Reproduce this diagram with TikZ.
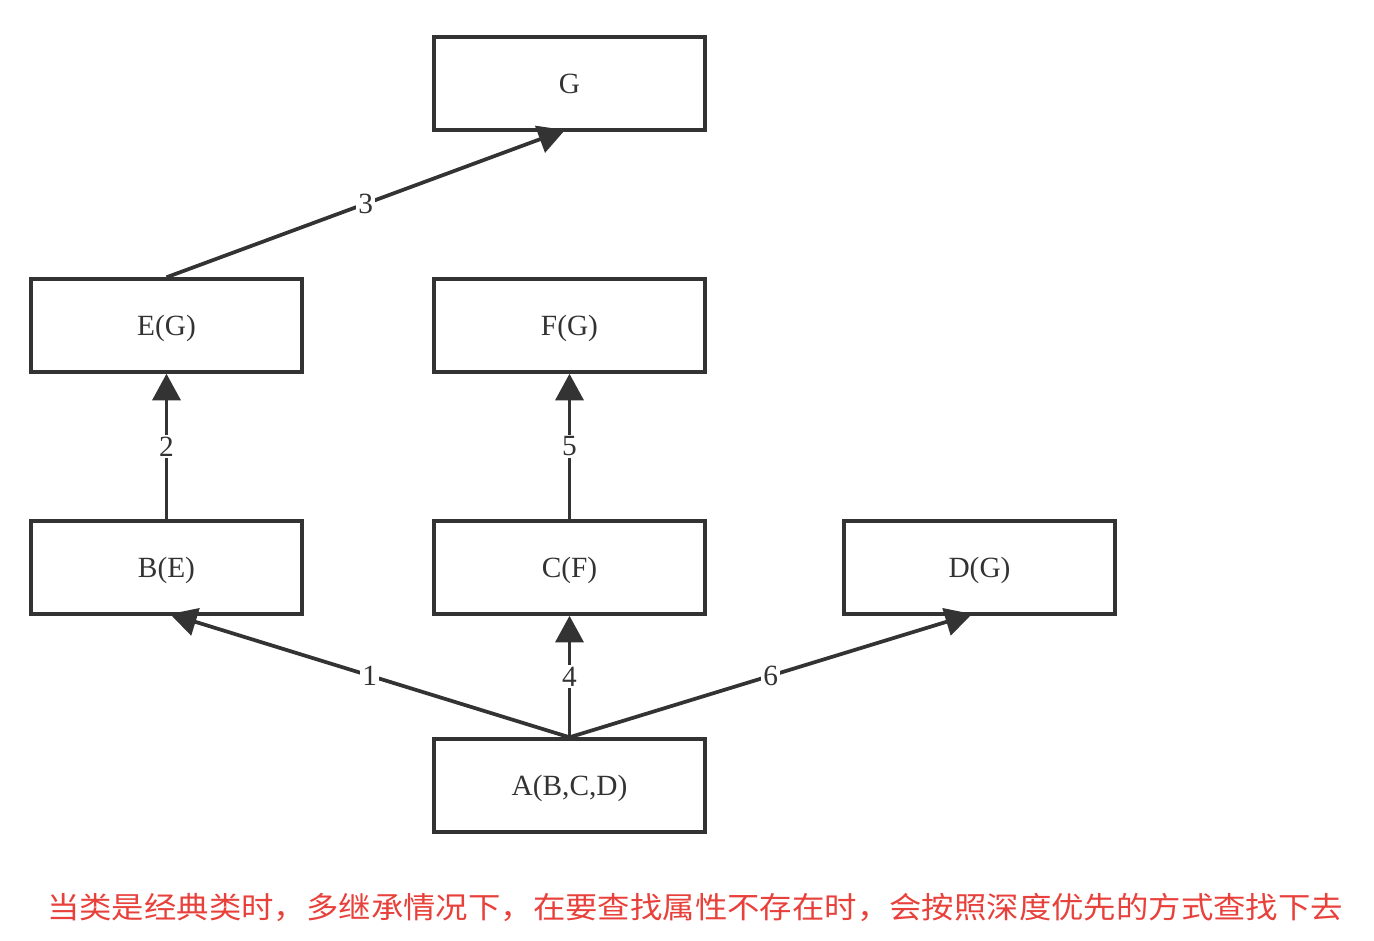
\documentclass[tikz,border=0pt]{standalone}
\usepackage{fontspec}
\setmainfont{Liberation Serif}
\newfontfamily\cjk{Noto Sans CJK SC}
\usetikzlibrary{arrows.meta}
\definecolor{ink}{HTML}{333333}
\definecolor{redtxt}{HTML}{E8403A}
\tikzset{
  box/.style={draw=ink, line width=2.6pt, minimum width=271*0.75pt, minimum height=93*0.75pt, inner sep=0pt, text height=15pt, text depth=0pt, font=\fontsize{22}{24}\selectfont, text=ink},
  conn/.style={draw=ink, line width=2.8pt, -{Triangle[length=20pt,width=21pt]}},
  lbl/.style={fill=white, inner sep=1.5pt, font=\fontsize{22}{24}\selectfont, text=ink},
}
\begin{document}
\begin{tikzpicture}[x=0.75pt,y=-0.75pt]
\useasboundingbox (0,0) rectangle (1374,940);
\node[box] (G) at (569.5,83.5) {G};
\node[box] (E) at (166.5,325.5) {E(G)};
\node[box] (F) at (569.5,325.5) {F(G)};
\node[box] (B) at (166.5,567.5) {B(E)};
\node[box] (C) at (569.5,567.5) {C(F)};
\node[box] (D) at (979.5,567.5) {D(G)};
\node[box] (A) at (569.5,785.5) {A(B,C,D)};
\coordinate (Gb) at (565,130);
\coordinate (Bb) at (170,614);
\coordinate (Db) at (972,614);
\draw[conn] (A.north) -- node[lbl, pos=0.5] {1} (Bb);
\draw[conn] (A.north) -- node[lbl, pos=0.5] {4} (C.south);
\draw[conn] (A.north) -- node[lbl, pos=0.5] {6} (Db);
\draw[conn] (B.north) -- node[lbl, pos=0.5] {2} (E.south);
\draw[conn] (C.north) -- node[lbl, pos=0.5] {5} (F.south);
\draw[conn] (E.north) -- node[lbl, pos=0.5] {3} (Gb);
\node[text=redtxt, font=\cjk\fontsize{24.3}{28}\selectfont, yscale=0.92] (note) at (695,907) {当类是经典类时，多继承情况下，在要查找属性不存在时，会按照深度优先的方式查找下去};
\end{tikzpicture}
\end{document}
